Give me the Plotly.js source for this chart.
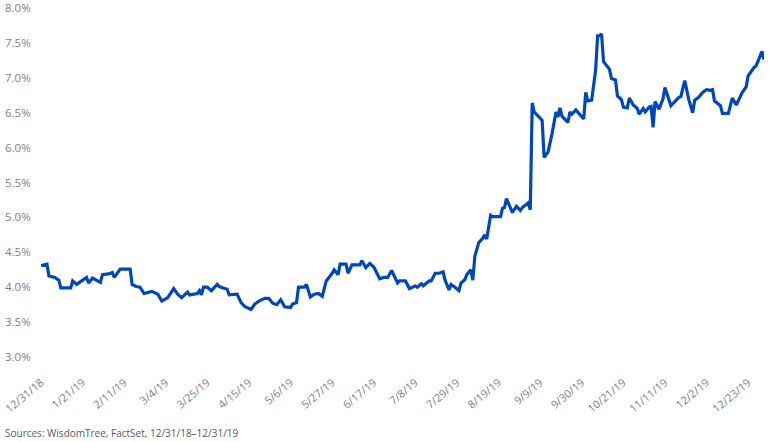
<!DOCTYPE html>
<html>
<head>
<meta charset="utf-8">
<script src="https://cdn.plot.ly/plotly-3.0.1.min.js"></script>
<style>
  html, body { margin: 0; padding: 0; background: #fff; }
  #chart { width: 770px; height: 442px; }
</style>
</head>
<body>
<div id="chart"></div>
<script>
// Dates of the readings
const dates = [
  "2018-12-31","2019-01-03","2019-01-04","2019-01-07","2019-01-09","2019-01-10","2019-01-15","2019-01-16","2019-01-18","2019-01-23",
  "2019-01-24","2019-01-26","2019-01-30","2019-01-31","2019-02-03","2019-02-05","2019-02-06","2019-02-09","2019-02-14","2019-02-15",
  "2019-02-17","2019-02-19","2019-02-21","2019-02-23","2019-02-25","2019-02-28","2019-03-02","2019-03-05","2019-03-08","2019-03-10",
  "2019-03-12","2019-03-15","2019-03-16","2019-03-20","2019-03-21","2019-03-22","2019-03-23","2019-03-25","2019-03-27","2019-03-30",
  "2019-03-31","2019-04-02","2019-04-04","2019-04-05","2019-04-09","2019-04-11","2019-04-13","2019-04-16","2019-04-18","2019-04-20",
  "2019-04-23","2019-04-25","2019-04-27","2019-04-29","2019-05-01","2019-05-03","2019-05-06","2019-05-07","2019-05-09","2019-05-10",
  "2019-05-13","2019-05-14","2019-05-16","2019-05-18","2019-05-20","2019-05-22","2019-05-24","2019-05-27","2019-05-28","2019-05-30",
  "2019-05-31","2019-06-03","2019-06-04","2019-06-06","2019-06-10","2019-06-11","2019-06-13","2019-06-15","2019-06-17","2019-06-20",
  "2019-06-22","2019-06-24","2019-06-26","2019-06-29","2019-06-30","2019-07-03","2019-07-05","2019-07-08","2019-07-09","2019-07-11",
  "2019-07-12","2019-07-15","2019-07-16","2019-07-18","2019-07-20","2019-07-22","2019-07-23","2019-07-25","2019-07-26","2019-07-28",
  "2019-07-30","2019-07-31","2019-08-02","2019-08-03","2019-08-05","2019-08-06","2019-08-07","2019-08-09","2019-08-11","2019-08-12",
  "2019-08-13","2019-08-15","2019-08-16","2019-08-20","2019-08-21","2019-08-22","2019-08-23","2019-08-26","2019-08-28","2019-08-30",
  "2019-08-31","2019-09-03","2019-09-04","2019-09-05","2019-09-06","2019-09-08","2019-09-10","2019-09-11","2019-09-13","2019-09-15",
  "2019-09-17","2019-09-18","2019-09-19","2019-09-20","2019-09-23","2019-09-24","2019-09-25","2019-09-27","2019-09-28","2019-10-01",
  "2019-10-02","2019-10-03","2019-10-05","2019-10-07","2019-10-08","2019-10-09","2019-10-10","2019-10-11","2019-10-13","2019-10-14",
  "2019-10-15","2019-10-17","2019-10-18","2019-10-20","2019-10-21","2019-10-23","2019-10-24","2019-10-26","2019-10-28","2019-10-29",
  "2019-10-31","2019-11-01","2019-11-03","2019-11-04","2019-11-05","2019-11-06","2019-11-08","2019-11-10","2019-11-11","2019-11-13",
  "2019-11-14","2019-11-16","2019-11-18","2019-11-19","2019-11-21","2019-11-23","2019-11-25","2019-11-26","2019-11-28","2019-11-30",
  "2019-12-02","2019-12-04","2019-12-05","2019-12-06","2019-12-08","2019-12-09","2019-12-10","2019-12-13","2019-12-15","2019-12-17",
  "2019-12-20","2019-12-22","2019-12-23","2019-12-26","2019-12-27","2019-12-30","2019-12-31"
];

// Values in percent
const values = [
  4.31,4.33,4.16,4.14,4.10,3.99,3.99,4.09,4.04,4.14,
  4.06,4.13,4.07,4.18,4.19,4.21,4.14,4.26,4.26,4.04,
  4.01,4.00,3.91,3.92,3.94,3.90,3.80,3.85,3.98,3.90,
  3.85,3.93,3.89,3.91,3.95,3.89,4.00,4.00,3.95,4.04,
  4.01,3.99,3.97,3.89,3.90,3.78,3.72,3.68,3.76,3.80,
  3.84,3.84,3.77,3.75,3.82,3.72,3.71,3.76,3.78,4.00,
  4.00,4.04,3.86,3.90,3.91,3.87,4.09,4.20,4.25,4.18,
  4.33,4.33,4.20,4.32,4.32,4.38,4.28,4.34,4.29,4.12,
  4.14,4.14,4.24,4.06,4.09,4.09,3.98,4.02,4.00,4.05,
  4.02,4.09,4.09,4.20,4.20,4.22,4.10,3.96,4.04,4.00,
  3.95,4.06,4.11,4.18,4.25,4.10,4.44,4.64,4.70,4.75,
  4.69,5.03,5.01,5.01,5.13,5.14,5.27,5.07,5.16,5.10,
  5.14,5.21,5.11,6.64,6.51,6.45,6.39,5.86,5.94,6.20,
  6.51,6.44,6.57,6.45,6.36,6.51,6.48,6.54,6.51,6.41,
  6.79,6.67,6.68,7.11,7.60,7.60,7.63,7.23,7.16,7.12,
  6.99,6.97,6.74,6.69,6.58,6.57,6.71,6.61,6.56,6.48,
  6.56,6.51,6.58,6.59,6.29,6.66,6.55,6.70,6.86,6.67,
  6.60,6.66,6.72,6.73,6.96,6.69,6.50,6.68,6.72,6.79,
  6.83,6.82,6.83,6.67,6.62,6.60,6.49,6.49,6.71,6.61,
  6.79,6.87,7.03,7.15,7.17,7.38,7.26
];

const tickDates = [
  "2018-12-31","2019-01-21","2019-02-11","2019-03-04","2019-03-25","2019-04-15",
  "2019-05-06","2019-05-27","2019-06-17","2019-07-08","2019-07-29","2019-08-19",
  "2019-09-09","2019-09-30","2019-10-21","2019-11-11","2019-12-02","2019-12-23"
];
const tickLabels = [
  "12/31/18","1/21/19","2/11/19","3/4/19","3/25/19","4/15/19",
  "5/6/19","5/27/19","6/17/19","7/8/19","7/29/19","8/19/19",
  "9/9/19","9/30/19","10/21/19","11/11/19","12/2/19","12/23/19"
];

const yTicks = [3.0,3.5,4.0,4.5,5.0,5.5,6.0,6.5,7.0,7.5,8.0];
const yLabels = ["3.0%","3.5%","4.0%","4.5%","5.0%","5.5%","6.0%","6.5%","7.0%","7.5%","8.0%"];

const sourceText = "Sources: WisdomTree, FactSet, 12/31/18\u201312/31/19";

const trace = {
  x: dates,
  y: values,
  type: "scatter",
  mode: "lines",
  line: { color: "#0047bb", width: 3.2 },
  hoverinfo: "skip",
  cliponaxis: false
};

const layout = {
  width: 770,
  height: 442,
  margin: { l: 41, r: 6, t: 8, b: 85 },
  paper_bgcolor: "#ffffff",
  plot_bgcolor: "#ffffff",
  showlegend: false,
  font: { family: "Open Sans, Noto Sans, sans-serif", color: "#7f7f7f" },
  xaxis: {
    type: "date",
    range: ["2018-12-31", "2019-12-31"],
    tickmode: "array",
    tickvals: tickDates,
    ticktext: tickLabels,
    tickangle: -40,
    ticks: "outside",
    ticklen: 14,
    tickcolor: "rgba(0,0,0,0)",
    tickfont: { size: 11, color: "#808080" },
    showgrid: false,
    zeroline: false,
    showline: false
  },
  yaxis: {
    range: [3, 8],
    tickmode: "array",
    tickvals: yTicks,
    ticktext: yLabels,
    ticks: "outside",
    ticklen: 7,
    tickcolor: "rgba(0,0,0,0)",
    ticklabeloverflow: "allow",
    tickfont: { size: 11.5, color: "#7f7f7f" },
    showgrid: false,
    zeroline: false,
    showline: false
  },
  annotations: [{
    text: sourceText,
    xref: "paper", yref: "paper",
    x: -38 / 723, y: -(433 - 357) / 349,
    xanchor: "left", yanchor: "middle",
    showarrow: false,
    font: { size: 10, color: "#595959", family: "Open Sans, Noto Sans, sans-serif" }
  }]
};

Plotly.newPlot("chart", [trace], layout, { displayModeBar: false, staticPlot: true });
</script>
</body>
</html>
